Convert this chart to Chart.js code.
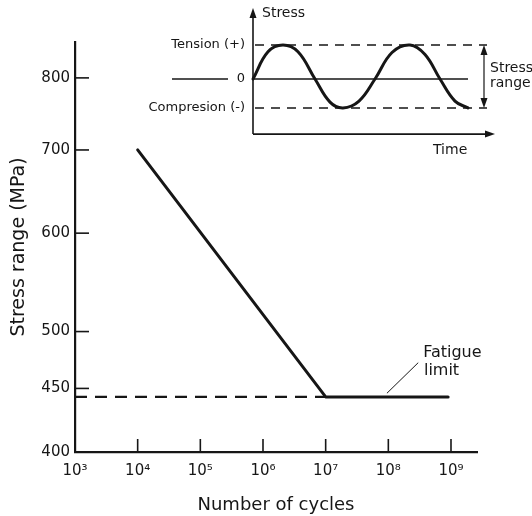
<!DOCTYPE html>
<html>
<head>
<meta charset="utf-8">
<script src="https://cdn.jsdelivr.net/npm/chart.js@4.4.1/dist/chart.umd.min.js"></script>
<style>
    html, body { margin: 0; padding: 0; background: #ffffff; }
    #wrap { position: relative; width: 532px; height: 516px; }
    #snChart { position: absolute; left: 0; top: 0; }
    #insetChart { position: absolute; left: 120px; top: 0; }
</style>
</head>
<body>
<div id="wrap">
    <canvas id="snChart" width="532" height="516"></canvas>
    <canvas id="insetChart" width="412" height="160"></canvas>
</div>
<script>
// S-N curve
const cycleTicks = [1e3, 1e4, 1e5, 1e6, 1e7, 1e8, 1e9];
const stressTicks = [400, 450, 500, 600, 700, 800];
const curveCycles = [1e4, 1e7, 9e8];
const curveStress = [700, 443, 443];
const limitCycles = [1e3, 1e7];
const limitStress = [443, 443];

// fatigue limit note
const leaderCycles = [9.5e7, 3.0e8];
const leaderStress = [446, 472];
const noteLines = ['Fatigue', 'limit'];
const noteCycles = [3.6e8, 3.7e8];
const noteStress = [481, 465];

// inset: stress against time (arbitrary units)
const waveTime = [0, 1.5, 3.0, 4.5, 6.2, 7.7, 9.0, 10.6, 12.2, 13.9, 15.7, 17.2, 18.7, 20.2, 21.5];
const waveStress = [0, 0.8, 1, 0.8, 0, -0.68, -0.85, -0.65, 0, 0.78, 1, 0.72, 0, -0.65, -0.85];
const tensionLevel = 1;
const compressionLevel = -0.85;

const ink = '#161616';
const FONT = '"DejaVu Sans", sans-serif';
const SUP = { 3: '\u00b3', 4: '\u2074', 5: '\u2075', 6: '\u2076', 7: '\u2077', 8: '\u2078', 9: '\u2079' };

function pts(xs, ys) {
    return xs.map((x, i) => ({ x: x, y: ys[i] }));
}

const innerTicks = {
    id: 'innerTicks',
    afterDraw(chart) {
        const { ctx, chartArea } = chart;
        const xs = chart.scales.x;
        const ys = chart.scales.y;
        ctx.save();
        ctx.strokeStyle = ink;
        ctx.lineWidth = 1.6;
        cycleTicks.forEach((v) => {
            const px = xs.getPixelForValue(v);
            ctx.beginPath();
            ctx.moveTo(px, chartArea.bottom);
            ctx.lineTo(px, chartArea.bottom - 13);
            ctx.stroke();
        });
        stressTicks.forEach((v) => {
            const py = ys.getPixelForValue(v);
            ctx.beginPath();
            ctx.moveTo(chartArea.left, py);
            ctx.lineTo(chartArea.left + 14, py);
            ctx.stroke();
        });

        // leader line + note
        ctx.lineWidth = 1;
        ctx.beginPath();
        ctx.moveTo(xs.getPixelForValue(leaderCycles[0]), ys.getPixelForValue(leaderStress[0]));
        ctx.lineTo(xs.getPixelForValue(leaderCycles[1]), ys.getPixelForValue(leaderStress[1]));
        ctx.stroke();
        ctx.fillStyle = ink;
        ctx.font = '16px ' + FONT;
        ctx.textAlign = 'left';
        ctx.textBaseline = 'middle';
        noteLines.forEach((t, i) => {
            ctx.fillText(t, xs.getPixelForValue(noteCycles[i]), ys.getPixelForValue(noteStress[i]));
        });
        ctx.restore();
    }
};

new Chart(document.getElementById('snChart'), {
    type: 'scatter',
    data: {
        datasets: [
            {
                label: 'S-N curve',
                data: pts(curveCycles, curveStress),
                showLine: true,
                borderColor: ink,
                borderWidth: 3,
                borderCapStyle: 'round',
                borderJoinStyle: 'round',
                pointRadius: 0,
            },
            {
                label: 'Fatigue limit',
                data: pts(limitCycles, limitStress),
                showLine: true,
                borderColor: ink,
                borderWidth: 2.2,
                borderDash: [12, 8],
                pointRadius: 0,
            }
        ]
    },
    options: {
        responsive: false,
        animation: false,
        devicePixelRatio: 1,
        layout: { padding: { top: 42, right: 55, left: 0, bottom: 0 } },
        plugins: { legend: { display: false }, tooltip: { enabled: false } },
        scales: {
            x: {
                type: 'logarithmic',
                min: 1e3,
                max: 2.6e9,
                afterBuildTicks: (s) => { s.ticks = cycleTicks.map((v) => ({ value: v })); },
                afterFit: (s) => { s.height = 64; },
                grid: { display: false, drawTicks: false },
                border: { display: true, color: ink, width: 2.2 },
                ticks: {
                    autoSkip: false,
                    maxRotation: 0,
                    padding: 10,
                    color: ink,
                    font: { family: FONT, size: 15 },
                    callback: (v) => '10' + SUP[Math.round(Math.log10(v))],
                },
                title: {
                    display: true,
                    text: 'Number of cycles',
                    color: ink,
                    font: { family: FONT, size: 18 },
                    padding: { top: 0, bottom: 0 },
                },
            },
            y: {
                type: 'logarithmic',
                min: 400,
                max: 855,
                afterBuildTicks: (s) => { s.ticks = stressTicks.map((v) => ({ value: v })); },
                afterFit: (s) => { s.width = 75; },
                grid: { display: false, drawTicks: false },
                border: { display: true, color: ink, width: 2.2 },
                ticks: {
                    autoSkip: false,
                    padding: 5,
                    color: ink,
                    font: { family: FONT, size: 15 },
                    callback: (v) => String(v),
                },
                title: {
                    display: true,
                    text: 'Stress range (MPa)',
                    color: ink,
                    font: { family: FONT, size: 19 },
                    padding: { top: 8, bottom: 0 },
                },
            }
        }
    },
    plugins: [innerTicks]
});

// ---------- inset ----------
const insetLabels = {
    id: 'insetLabels',
    afterDatasetsDraw(chart) {
        const { ctx } = chart;
        const xs = chart.scales.x;
        const ys = chart.scales.y;
        const X = (v) => xs.getPixelForValue(v);
        const Y = (v) => ys.getPixelForValue(v);

        function head(tx, ty, dir) {
            ctx.beginPath();
            if (dir === 'up') { ctx.moveTo(tx, ty); ctx.lineTo(tx - 3.5, ty + 10); ctx.lineTo(tx + 3.5, ty + 10); }
            if (dir === 'down') { ctx.moveTo(tx, ty); ctx.lineTo(tx - 3.5, ty - 10); ctx.lineTo(tx + 3.5, ty - 10); }
            if (dir === 'right') { ctx.moveTo(tx, ty); ctx.lineTo(tx - 10, ty - 3.5); ctx.lineTo(tx - 10, ty + 3.5); }
            ctx.closePath();
            ctx.fill();
        }

        ctx.save();
        ctx.fillStyle = ink;
        head(X(0), Y(2.09), 'up');
        head(X(24.2), Y(-1.62), 'right');
        head(X(23.1), Y(tensionLevel), 'up');
        head(X(23.1), Y(compressionLevel), 'down');

        ctx.textBaseline = 'middle';
        ctx.textAlign = 'left';
        ctx.font = '14px ' + FONT;
        ctx.fillText('Stress', X(0.9), Y(1.94));
        ctx.fillText('Time', X(18.0), Y(-2.09));
        ctx.fillText('Stress', X(23.7), Y(0.32));
        ctx.fillText('range', X(23.7), Y(-0.12));
        ctx.font = '13px ' + FONT;
        ctx.textAlign = 'right';
        ctx.fillText('Tension (+)', X(-0.8), Y(tensionLevel));
        ctx.fillText('Compresion (-)', X(-0.8), Y(compressionLevel));
        ctx.textAlign = 'center';
        ctx.fillText('0', X(-1.2), Y(0));
        ctx.restore();
    }
};

function thin(data, width, dash) {
    return {
        data: data,
        showLine: true,
        borderColor: ink,
        borderWidth: width,
        borderDash: dash || [],
        pointRadius: 0,
    };
}

new Chart(document.getElementById('insetChart'), {
    type: 'scatter',
    data: {
        datasets: [
            {
                data: pts(waveTime, waveStress),
                showLine: true,
                borderColor: ink,
                borderWidth: 3,
                tension: 0.4,
                borderCapStyle: 'round',
                borderJoinStyle: 'round',
                pointRadius: 0,
            },
            thin([{ x: 0, y: 0 }, { x: 21.5, y: 0 }], 1.5),
            thin([{ x: -8.1, y: 0 }, { x: -2.5, y: 0 }], 1.5),
            thin([{ x: 0.2, y: tensionLevel }, { x: 23.4, y: tensionLevel }], 1.5, [9, 7]),
            thin([{ x: 0.2, y: compressionLevel }, { x: 23.4, y: compressionLevel }], 1.5, [9, 7]),
            thin([{ x: 0, y: -1.62 }, { x: 0, y: 1.9 }], 1.6),
            thin([{ x: 0, y: -1.62 }, { x: 23.6, y: -1.62 }], 1.6),
            thin([{ x: 23.1, y: compressionLevel + 0.2 }, { x: 23.1, y: tensionLevel - 0.2 }], 1.2),
        ]
    },
    options: {
        responsive: false,
        animation: false,
        devicePixelRatio: 1,
        layout: { padding: 0 },
        plugins: { legend: { display: false }, tooltip: { enabled: false } },
        scales: {
            x: { type: 'linear', display: false, min: -13.3, max: 27.9 },
            y: { type: 'linear', display: false, min: -2.382, max: 2.3235 },
        }
    },
    plugins: [insetLabels]
});
</script>
</body>
</html>
